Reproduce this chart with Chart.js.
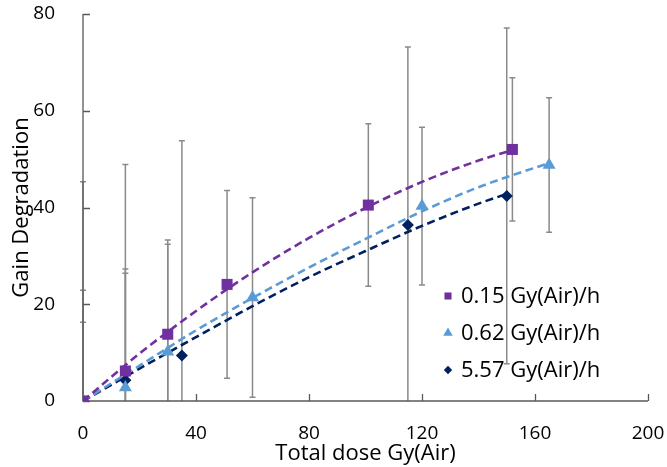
<!DOCTYPE html>
<html>
<head>
<meta charset="utf-8">
<script src="https://cdn.jsdelivr.net/npm/chart.js@4"></script>
<style>
  html, body { margin: 0; padding: 0; background: #fff; }
  #wrap { width: 667px; height: 467px; }
</style>
</head>
<body>
<div id="wrap"><canvas id="chart"></canvas></div>
<script>
// measured points (dose, gain, +/- error) per dose rate
const seriesLabels = ['0.15 Gy(Air)/h', '0.62 Gy(Air)/h', '5.57 Gy(Air)/h'];
const seriesColors = ['#7030A0', '#5B9BD5', '#002060'];
const seriesStyles = ['rect', 'triangle', 'rectRot'];

const dose1 = [0, 15, 30, 51, 101, 152];
const gain1 = [0, 6.2, 13.8, 24.1, 40.5, 52.0];
const err1 = [45.3, 42.7, 19.5, 19.4, 16.8, 14.8];

const dose2 = [0, 15, 30, 60, 120, 165];
const gain2 = [0, 2.8, 10.2, 21.4, 40.3, 48.8];
const err2 = [16.3, 23.6, 22.2, 20.6, 16.3, 13.9];

const dose3 = [0, 15, 35, 115, 150];
const gain3 = [0, 4.3, 9.4, 36.4, 42.4];
const err3 = [22.9, 23.0, 44.4, 36.8, 34.7];

// dashed trend lines
const trendX1 = [0, 20, 40, 60, 80, 100, 120, 140, 152];
const trendY1 = [0, 9.8, 18.6, 26.6, 33.7, 39.9, 45.3, 49.7, 51.9];
const trendX2 = [0, 20, 40, 60, 80, 100, 120, 140, 165];
const trendY2 = [0, 7.3, 14.6, 21.3, 27.6, 33.5, 39.2, 44.2, 49.2];
const trendX3 = [0, 20, 40, 60, 80, 100, 120, 140, 150];
const trendY3 = [0, 6.7, 13.2, 19.6, 25.6, 31.0, 36.2, 40.8, 42.8];

const xTicks = [0, 40, 80, 120, 160, 200];
const yTicks = [0, 20, 40, 60, 80];

const FONT = "'Open Sans', sans-serif";

function pts(xs, ys) {
    return xs.map((x, i) => ({ x: x, y: ys[i] }));
}

const doses = [dose1, dose2, dose3];
const gains = [gain1, gain2, gain3];
const errs = [err1, err2, err3];
const trends = [[trendX1, trendY1], [trendX2, trendY2], [trendX3, trendY3]];
const markerRadius = [7.8, 7.5, 6];

const datasets = [];
for (let i = 0; i < 3; i++) {
    datasets.push({
        type: 'scatter',
        label: seriesLabels[i],
        data: pts(doses[i], gains[i]),
        errors: errs[i],
        pointStyle: seriesStyles[i],
        pointRadius: markerRadius[i],
        pointBackgroundColor: seriesColors[i],
        pointBorderColor: seriesColors[i],
        pointBorderWidth: 0,
        order: 0
    });
}
for (let i = 0; i < 3; i++) {
    datasets.push({
        type: 'line',
        label: 'trend' + i,
        data: pts(trends[i][0], trends[i][1]),
        borderColor: seriesColors[i],
        borderWidth: 2.6,
        borderDash: [8, 4.5],
        pointRadius: 0,
        fill: false,
        cubicInterpolationMode: 'monotone',
        order: 1
    });
}

// vertical error bars, drawn under the markers
const errorBars = {
    id: 'errorBars',
    beforeDatasetsDraw(chart) {
        const ctx = chart.ctx;
        const area = chart.chartArea;
        const xs = chart.scales.x, ys = chart.scales.y;
        ctx.save();
        ctx.beginPath();
        ctx.rect(area.left - 5, area.top - 5, area.right - area.left + 10, area.bottom - area.top + 5);
        ctx.clip();
        ctx.strokeStyle = '#8a8a8a';
        ctx.lineWidth = 1.5;
        chart.data.datasets.forEach(ds => {
            if (!ds.errors) return;
            ds.data.forEach((p, j) => {
                const e = ds.errors[j];
                const px = xs.getPixelForValue(p.x);
                const top = ys.getPixelForValue(p.y + e);
                const bot = ys.getPixelForValue(p.y - e);
                ctx.beginPath();
                ctx.moveTo(px, top);
                ctx.lineTo(px, bot);
                ctx.moveTo(px - 3, top);
                ctx.lineTo(px + 3, top);
                ctx.moveTo(px - 3, bot);
                ctx.lineTo(px + 3, bot);
                ctx.stroke();
            });
        });
        ctx.restore();
    }
};

// axis lines with inside tick marks, Excel style
const axisLines = {
    id: 'axisLines',
    beforeDatasetsDraw(chart) {
        const ctx = chart.ctx;
        const area = chart.chartArea;
        const xs = chart.scales.x, ys = chart.scales.y;
        ctx.save();
        ctx.strokeStyle = '#595959';
        ctx.lineWidth = 1.3;
        ctx.beginPath();
        ctx.moveTo(area.left, area.top);
        ctx.lineTo(area.left, area.bottom);
        ctx.lineTo(area.right, area.bottom);
        yTicks.forEach(v => {
            const py = Math.round(ys.getPixelForValue(v)) + 0.5;
            ctx.moveTo(area.left, py);
            ctx.lineTo(area.left + 7, py);
        });
        xTicks.forEach(v => {
            const px = Math.round(xs.getPixelForValue(v)) + 0.5;
            ctx.moveTo(px, area.bottom);
            ctx.lineTo(px, area.bottom - 7);
        });
        ctx.stroke();
        ctx.restore();
    }
};

// legend sitting inside the plot, lower right
const insideLegend = {
    id: 'insideLegend',
    afterDatasetsDraw(chart) {
        const ctx = chart.ctx;
        const lx = 448, tx = 461, rows = [296, 333, 370];
        const sizes = [5, 5.5, 4.2];
        ctx.save();
        ctx.font = '22px ' + FONT;
        ctx.textBaseline = 'middle';
        for (let i = 0; i < 3; i++) {
            ctx.fillStyle = '#000';
            ctx.fillText(seriesLabels[i], tx, rows[i] + 1);
            ctx.fillStyle = seriesColors[i];
            ctx.strokeStyle = seriesColors[i];
            Chart.helpers.drawPoint(ctx, {
                pointStyle: seriesStyles[i], radius: sizes[i], borderWidth: 0
            }, lx, rows[i]);
        }
        ctx.restore();
    }
};

new Chart(document.getElementById('chart'), {
    data: { datasets: datasets },
    options: {
        responsive: true,
        maintainAspectRatio: false,
        animation: false,
        layout: { padding: { top: 14, right: 19, left: 0, bottom: 0 } },
        plugins: {
            legend: { display: false },
            tooltip: { enabled: false }
        },
        scales: {
            x: {
                type: 'linear',
                min: 0,
                max: 200,
                afterBuildTicks: s => { s.ticks = xTicks.map(v => ({ value: v })); },
                afterFit: s => { s.height = 66; s.paddingLeft = 0; s.paddingRight = 0; },
                grid: { display: false },
                border: { display: false },
                ticks: { color: '#000', padding: 13, font: { family: FONT, size: 19 } },
                title: {
                    display: true,
                    text: 'Total dose Gy(Air)',
                    color: '#000',
                    padding: { top: -6, bottom: 0 },
                    font: { family: FONT, size: 22 }
                }
            },
            y: {
                min: 0,
                max: 80,
                afterBuildTicks: s => { s.ticks = yTicks.map(v => ({ value: v })); },
                afterFit: s => { s.width = 83; s.paddingTop = 0; s.paddingBottom = 0; },
                grid: { display: false },
                border: { display: false },
                ticks: { color: '#000', padding: 20, font: { family: FONT, size: 19 } },
                title: {
                    display: true,
                    text: 'Gain Degradation',
                    color: '#000',
                    padding: { top: 9, bottom: 0 },
                    font: { family: FONT, size: 22 }
                }
            }
        }
    },
    plugins: [errorBars, axisLines, insideLegend]
});
</script>
</body>
</html>
